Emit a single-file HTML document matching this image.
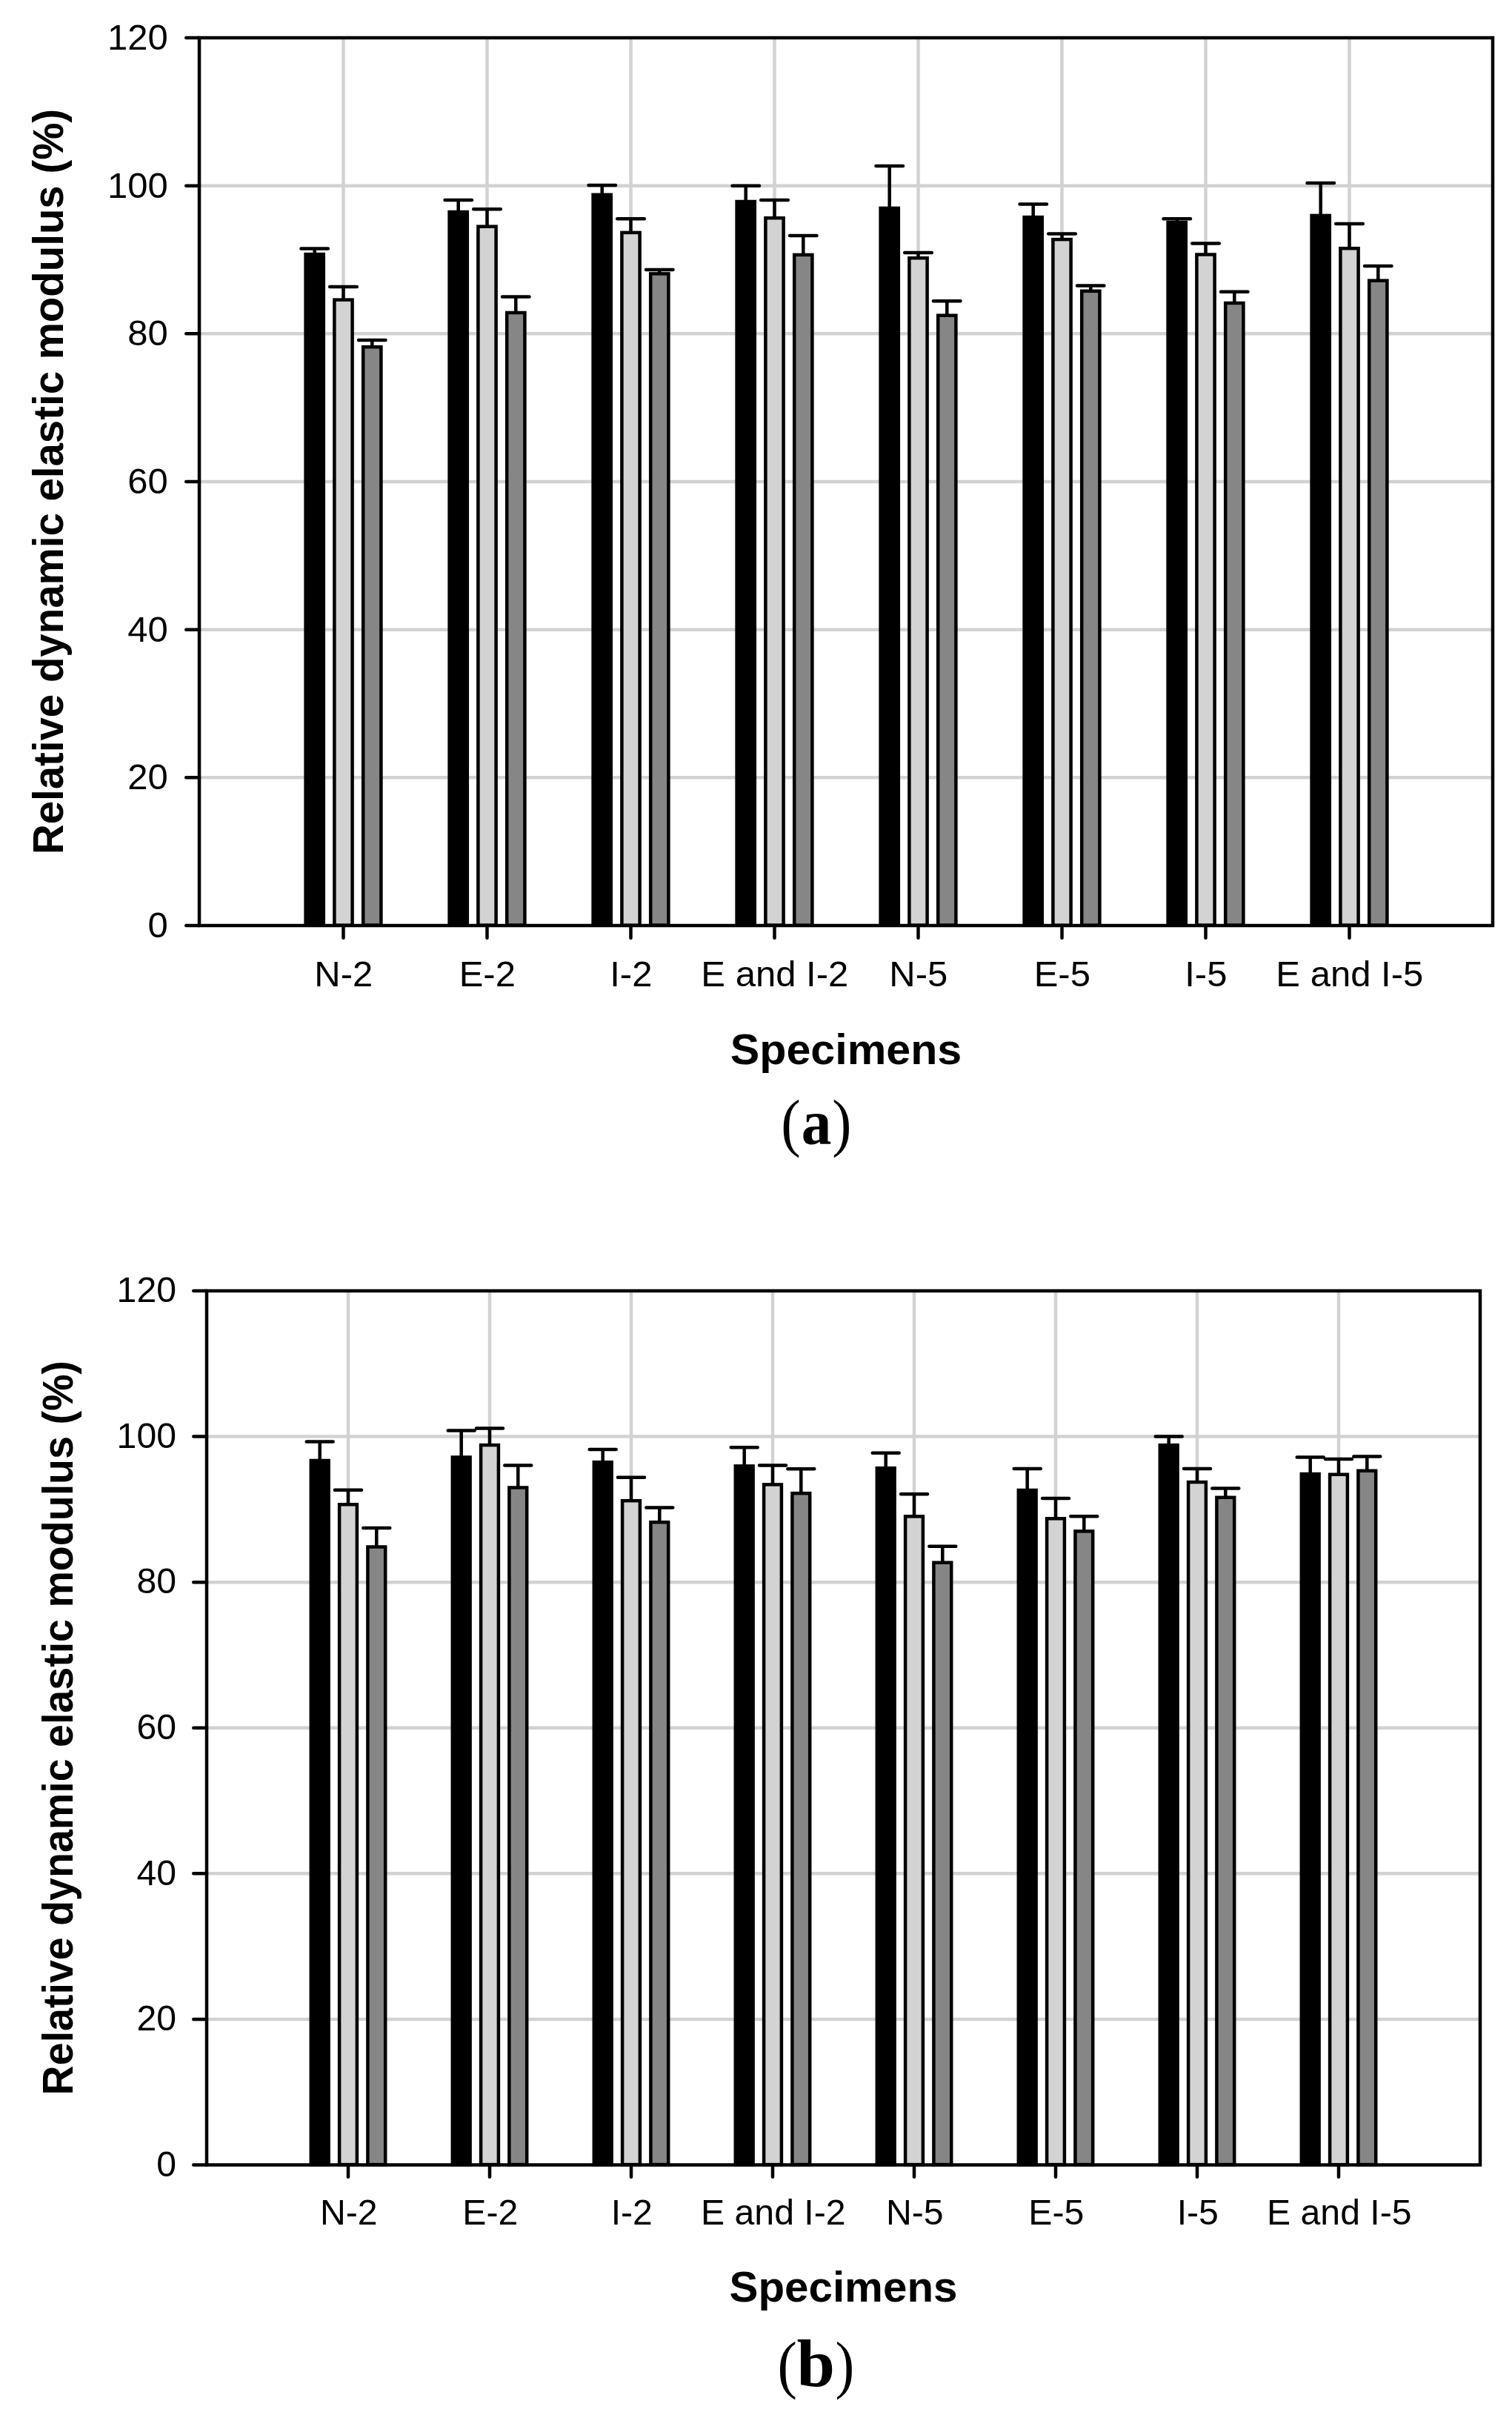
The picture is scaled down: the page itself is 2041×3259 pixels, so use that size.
<!DOCTYPE html>
<html lang="en"><head><meta charset="utf-8"><title>Relative dynamic elastic modulus</title>
<style>
html,body{margin:0;padding:0;background:#fff;}
body{width:2041px;height:3259px;overflow:hidden;}
svg{display:block;}
text{white-space:pre;}
</style></head><body>
<svg width="2041" height="3259" viewBox="0 0 2041 3259">
<rect width="2041" height="3259" fill="#fff"/>
<g id="chart-a">
<g stroke="#d2d2d2" stroke-width="4.5" fill="none"><line x1="269" x2="2015" y1="250.7" y2="250.7"/><line x1="269" x2="2015" y1="450.3" y2="450.3"/><line x1="269" x2="2015" y1="650.0" y2="650.0"/><line x1="269" x2="2015" y1="849.7" y2="849.7"/><line x1="269" x2="2015" y1="1049.3" y2="1049.3"/><line x1="463.5" x2="463.5" y1="51" y2="1249"/><line x1="657.5" x2="657.5" y1="51" y2="1249"/><line x1="851.5" x2="851.5" y1="51" y2="1249"/><line x1="1045.5" x2="1045.5" y1="51" y2="1249"/><line x1="1239.5" x2="1239.5" y1="51" y2="1249"/><line x1="1433.5" x2="1433.5" y1="51" y2="1249"/><line x1="1627.5" x2="1627.5" y1="51" y2="1249"/><line x1="1821.5" x2="1821.5" y1="51" y2="1249"/></g>
<g stroke="#000" stroke-width="4.5" stroke-linejoin="miter"><rect x="412.6" y="343.1" width="24.2" height="905.5" fill="#000"/><rect x="451.4" y="404.6" width="24.2" height="844.1" fill="#d3d3d3"/><rect x="490.2" y="468.2" width="24.2" height="780.4" fill="#868686"/><rect x="606.6" y="286.0" width="24.2" height="962.6" fill="#000"/><rect x="645.4" y="305.7" width="24.2" height="942.9" fill="#d3d3d3"/><rect x="684.2" y="422.0" width="24.2" height="826.6" fill="#868686"/><rect x="800.6" y="262.8" width="24.2" height="985.9" fill="#000"/><rect x="839.4" y="313.9" width="24.2" height="934.8" fill="#d3d3d3"/><rect x="878.2" y="369.4" width="24.2" height="879.2" fill="#868686"/><rect x="994.6" y="272.0" width="24.2" height="976.6" fill="#000"/><rect x="1033.4" y="294.2" width="24.2" height="954.4" fill="#d3d3d3"/><rect x="1072.2" y="343.9" width="24.2" height="904.8" fill="#868686"/><rect x="1188.6" y="280.9" width="24.2" height="967.6" fill="#000"/><rect x="1227.4" y="348.2" width="24.2" height="900.4" fill="#d3d3d3"/><rect x="1266.2" y="425.7" width="24.2" height="822.9" fill="#868686"/><rect x="1382.6" y="293.1" width="24.2" height="955.5" fill="#000"/><rect x="1421.4" y="323.1" width="24.2" height="925.6" fill="#d3d3d3"/><rect x="1460.2" y="392.8" width="24.2" height="855.9" fill="#868686"/><rect x="1576.6" y="300.1" width="24.2" height="948.5" fill="#000"/><rect x="1615.4" y="343.5" width="24.2" height="905.1" fill="#d3d3d3"/><rect x="1654.2" y="409.0" width="24.2" height="839.6" fill="#868686"/><rect x="1770.6" y="290.9" width="24.2" height="957.6" fill="#000"/><rect x="1809.4" y="335.2" width="24.2" height="913.4" fill="#d3d3d3"/><rect x="1848.2" y="378.7" width="24.2" height="869.9" fill="#868686"/></g>
<g stroke="#000" stroke-width="4.5" stroke-linecap="round" fill="none"><path d="M424.7 341.9V335.6M406.4 335.6H442.9"/><path d="M463.5 403.3V387.0M445.2 387.0H481.8"/><path d="M502.3 467.0V458.9M484.1 458.9H520.5"/><path d="M618.7 284.8V270.0M600.5 270.0H637.0"/><path d="M657.5 304.4V282.2M639.2 282.2H675.8"/><path d="M696.3 420.7V400.4M678.0 400.4H714.5"/><path d="M812.7 261.5V250.0M794.5 250.0H831.0"/><path d="M851.5 312.6V295.2M833.2 295.2H869.8"/><path d="M890.3 368.1V364.0M872.0 364.0H908.5"/><path d="M1006.7 270.8V250.7M988.5 250.7H1025.0"/><path d="M1045.5 292.9V270.0M1027.2 270.0H1063.8"/><path d="M1084.3 342.6V318.1M1066.0 318.1H1102.5"/><path d="M1200.7 279.7V224.1M1182.5 224.1H1219.0"/><path d="M1239.5 347.0V341.1M1221.2 341.1H1257.8"/><path d="M1278.3 424.4V406.3M1260.0 406.3H1296.5"/><path d="M1394.7 291.9V275.6M1376.5 275.6H1413.0"/><path d="M1433.5 321.8V315.6M1415.2 315.6H1451.8"/><path d="M1472.3 391.5V385.6M1454.0 385.6H1490.5"/><path d="M1588.7 298.9V295.2M1570.5 295.2H1607.0"/><path d="M1627.5 342.2V328.5M1609.2 328.5H1645.8"/><path d="M1666.3 407.7V393.7M1648.0 393.7H1684.5"/><path d="M1782.7 289.7V247.0M1764.5 247.0H1801.0"/><path d="M1821.5 334.0V301.9M1803.2 301.9H1839.8"/><path d="M1860.3 377.4V358.9M1842.0 358.9H1878.5"/></g>
<rect x="269" y="51" width="1746" height="1198" fill="none" stroke="#000" stroke-width="4.5"/>
<g stroke="#000" stroke-width="4.5" stroke-linecap="round"><line x1="251.25" x2="269" y1="51.0" y2="51.0"/><line x1="251.25" x2="269" y1="250.7" y2="250.7"/><line x1="251.25" x2="269" y1="450.3" y2="450.3"/><line x1="251.25" x2="269" y1="650.0" y2="650.0"/><line x1="251.25" x2="269" y1="849.7" y2="849.7"/><line x1="251.25" x2="269" y1="1049.3" y2="1049.3"/><line x1="251.25" x2="269" y1="1249.0" y2="1249.0"/><line x1="463.5" x2="463.5" y1="1249" y2="1265.75"/><line x1="657.5" x2="657.5" y1="1249" y2="1265.75"/><line x1="851.5" x2="851.5" y1="1249" y2="1265.75"/><line x1="1045.5" x2="1045.5" y1="1249" y2="1265.75"/><line x1="1239.5" x2="1239.5" y1="1249" y2="1265.75"/><line x1="1433.5" x2="1433.5" y1="1249" y2="1265.75"/><line x1="1627.5" x2="1627.5" y1="1249" y2="1265.75"/><line x1="1821.5" x2="1821.5" y1="1249" y2="1265.75"/></g>
<g font-family="'Liberation Sans', Arial, sans-serif" font-size="49" fill="#000"><text x="226.8" y="66.9" text-anchor="end">120</text><text x="226.8" y="266.6" text-anchor="end">100</text><text x="226.8" y="466.2" text-anchor="end">80</text><text x="226.8" y="665.9" text-anchor="end">60</text><text x="226.8" y="865.6" text-anchor="end">40</text><text x="226.8" y="1065.2" text-anchor="end">20</text><text x="226.8" y="1264.9" text-anchor="end">0</text><text x="463.8" y="1331.4" text-anchor="middle">N-2</text><text x="657.8" y="1331.4" text-anchor="middle">E-2</text><text x="851.8" y="1331.4" text-anchor="middle">I-2</text><text x="1045.8" y="1331.4" text-anchor="middle">E and I-2</text><text x="1239.8" y="1331.4" text-anchor="middle">N-5</text><text x="1433.8" y="1331.4" text-anchor="middle">E-5</text><text x="1627.8" y="1331.4" text-anchor="middle">I-5</text><text x="1821.8" y="1331.4" text-anchor="middle">E and I-5</text></g>
<text x="1142.0" y="1435.7" text-anchor="middle" font-family="'Liberation Sans', Arial, sans-serif" font-weight="bold" font-size="58" textLength="312.45" lengthAdjust="spacingAndGlyphs">Specimens</text>
<text transform="translate(85,650.0) rotate(-90)" text-anchor="middle" font-family="'Liberation Sans', Arial, sans-serif" font-weight="bold" font-size="58" textLength="1006.2" lengthAdjust="spacingAndGlyphs">Relative dynamic elastic modulus (%)</text>
<g font-family="'Liberation Serif', 'Times New Roman', serif" fill="#000"><text transform="translate(1054.22,1543.75) scale(0.9162,1)" font-size="86.89" font-weight="normal">(</text><text transform="translate(1081.66,1543.77) scale(0.9375,1)" font-size="86.74" font-weight="bold">a</text><text transform="translate(1123.35,1543.75) scale(0.9030,1)" font-size="86.89" font-weight="normal">)</text></g>
</g>
<g id="chart-b">
<g stroke="#d2d2d2" stroke-width="4.5" fill="none"><line x1="279" x2="1998" y1="1938.6" y2="1938.6"/><line x1="279" x2="1998" y1="2135.2" y2="2135.2"/><line x1="279" x2="1998" y1="2331.8" y2="2331.8"/><line x1="279" x2="1998" y1="2528.3" y2="2528.3"/><line x1="279" x2="1998" y1="2724.9" y2="2724.9"/><line x1="470.0" x2="470.0" y1="1742" y2="2921.5"/><line x1="661.0" x2="661.0" y1="1742" y2="2921.5"/><line x1="852.0" x2="852.0" y1="1742" y2="2921.5"/><line x1="1043.0" x2="1043.0" y1="1742" y2="2921.5"/><line x1="1234.0" x2="1234.0" y1="1742" y2="2921.5"/><line x1="1425.0" x2="1425.0" y1="1742" y2="2921.5"/><line x1="1616.0" x2="1616.0" y1="1742" y2="2921.5"/><line x1="1807.0" x2="1807.0" y1="1742" y2="2921.5"/></g>
<g stroke="#000" stroke-width="4.5" stroke-linejoin="miter"><rect x="419.8" y="1971.0" width="23.8" height="950.1" fill="#000"/><rect x="458.1" y="2030.3" width="23.8" height="890.8" fill="#d3d3d3"/><rect x="496.4" y="2087.5" width="23.8" height="833.6" fill="#868686"/><rect x="610.8" y="1966.5" width="23.8" height="954.6" fill="#000"/><rect x="649.1" y="1950.1" width="23.8" height="971.0" fill="#d3d3d3"/><rect x="687.4" y="2007.5" width="23.8" height="913.6" fill="#868686"/><rect x="801.8" y="1973.2" width="23.8" height="947.9" fill="#000"/><rect x="840.1" y="2025.2" width="23.8" height="895.9" fill="#d3d3d3"/><rect x="878.4" y="2054.2" width="23.8" height="866.9" fill="#868686"/><rect x="992.8" y="1978.4" width="23.8" height="942.7" fill="#000"/><rect x="1031.1" y="2003.4" width="23.8" height="917.7" fill="#d3d3d3"/><rect x="1069.4" y="2015.2" width="23.8" height="905.9" fill="#868686"/><rect x="1183.8" y="1981.2" width="23.8" height="939.9" fill="#000"/><rect x="1222.1" y="2046.4" width="23.8" height="874.7" fill="#d3d3d3"/><rect x="1260.4" y="2108.7" width="23.8" height="812.4" fill="#868686"/><rect x="1374.8" y="2011.0" width="23.8" height="910.1" fill="#000"/><rect x="1413.1" y="2049.3" width="23.8" height="871.8" fill="#d3d3d3"/><rect x="1451.4" y="2066.4" width="23.8" height="854.7" fill="#868686"/><rect x="1565.8" y="1950.2" width="23.8" height="970.9" fill="#000"/><rect x="1604.1" y="2000.1" width="23.8" height="921.0" fill="#d3d3d3"/><rect x="1642.4" y="2020.8" width="23.8" height="900.3" fill="#868686"/><rect x="1756.8" y="1989.1" width="23.8" height="932.0" fill="#000"/><rect x="1795.1" y="1989.8" width="23.8" height="931.4" fill="#d3d3d3"/><rect x="1833.4" y="1984.8" width="23.8" height="936.3" fill="#868686"/></g>
<g stroke="#000" stroke-width="4.5" stroke-linecap="round" fill="none"><path d="M431.7 1969.7V1945.5M413.7 1945.5H449.7"/><path d="M470.0 2029.1V2010.7M452.0 2010.7H488.0"/><path d="M508.3 2086.3V2061.9M490.3 2061.9H526.3"/><path d="M622.7 1965.2V1930.4M604.7 1930.4H640.7"/><path d="M661.0 1948.9V1927.4M643.0 1927.4H679.0"/><path d="M699.3 2006.3V1977.4M681.3 1977.4H717.3"/><path d="M813.7 1971.9V1955.9M795.7 1955.9H831.7"/><path d="M852.0 2024.0V1993.7M834.0 1993.7H870.0"/><path d="M890.3 2052.9V2034.4M872.3 2034.4H908.3"/><path d="M1004.7 1977.1V1953.3M986.7 1953.3H1022.7"/><path d="M1043.0 2002.2V1977.4M1025.0 1977.4H1061.0"/><path d="M1081.3 2014.0V1982.2M1063.3 1982.2H1099.3"/><path d="M1195.7 1980.0V1960.7M1177.7 1960.7H1213.7"/><path d="M1234.0 2045.2V2016.3M1216.0 2016.3H1252.0"/><path d="M1272.3 2107.4V2086.7M1254.3 2086.7H1290.3"/><path d="M1386.7 2009.7V1981.9M1368.7 1981.9H1404.7"/><path d="M1425.0 2048.1V2021.9M1407.0 2021.9H1443.0"/><path d="M1463.3 2065.2V2046.3M1445.3 2046.3H1481.3"/><path d="M1577.7 1948.9V1938.5M1559.7 1938.5H1595.7"/><path d="M1616.0 1998.9V1981.9M1598.0 1981.9H1634.0"/><path d="M1654.3 2019.6V2008.5M1636.3 2008.5H1672.3"/><path d="M1768.7 1987.8V1966.5M1750.7 1966.5H1786.7"/><path d="M1807.0 1988.5V1969.0M1789.0 1969.0H1825.0"/><path d="M1845.3 1983.6V1965.4M1827.3 1965.4H1863.3"/></g>
<rect x="279" y="1742" width="1719" height="1179.5" fill="none" stroke="#000" stroke-width="4.5"/>
<g stroke="#000" stroke-width="4.5" stroke-linecap="round"><line x1="261.25" x2="279" y1="1742.0" y2="1742.0"/><line x1="261.25" x2="279" y1="1938.6" y2="1938.6"/><line x1="261.25" x2="279" y1="2135.2" y2="2135.2"/><line x1="261.25" x2="279" y1="2331.8" y2="2331.8"/><line x1="261.25" x2="279" y1="2528.3" y2="2528.3"/><line x1="261.25" x2="279" y1="2724.9" y2="2724.9"/><line x1="261.25" x2="279" y1="2921.5" y2="2921.5"/><line x1="470.0" x2="470.0" y1="2921.5" y2="2937.75"/><line x1="661.0" x2="661.0" y1="2921.5" y2="2937.75"/><line x1="852.0" x2="852.0" y1="2921.5" y2="2937.75"/><line x1="1043.0" x2="1043.0" y1="2921.5" y2="2937.75"/><line x1="1234.0" x2="1234.0" y1="2921.5" y2="2937.75"/><line x1="1425.0" x2="1425.0" y1="2921.5" y2="2937.75"/><line x1="1616.0" x2="1616.0" y1="2921.5" y2="2937.75"/><line x1="1807.0" x2="1807.0" y1="2921.5" y2="2937.75"/></g>
<g font-family="'Liberation Sans', Arial, sans-serif" font-size="48.2" fill="#000"><text x="238" y="1757.2" text-anchor="end">120</text><text x="238" y="1953.8" text-anchor="end">100</text><text x="238" y="2150.4" text-anchor="end">80</text><text x="238" y="2346.9" text-anchor="end">60</text><text x="238" y="2543.5" text-anchor="end">40</text><text x="238" y="2740.1" text-anchor="end">20</text><text x="238" y="2936.7" text-anchor="end">0</text><text x="470.8" y="3001.5" text-anchor="middle">N-2</text><text x="661.8" y="3001.5" text-anchor="middle">E-2</text><text x="852.8" y="3001.5" text-anchor="middle">I-2</text><text x="1043.8" y="3001.5" text-anchor="middle">E and I-2</text><text x="1234.8" y="3001.5" text-anchor="middle">N-5</text><text x="1425.8" y="3001.5" text-anchor="middle">E-5</text><text x="1616.8" y="3001.5" text-anchor="middle">I-5</text><text x="1807.8" y="3001.5" text-anchor="middle">E and I-5</text></g>
<text x="1138.5" y="3105.7" text-anchor="middle" font-family="'Liberation Sans', Arial, sans-serif" font-weight="bold" font-size="57.5" textLength="307.9" lengthAdjust="spacingAndGlyphs">Specimens</text>
<text transform="translate(98,2331.8) rotate(-90)" text-anchor="middle" font-family="'Liberation Sans', Arial, sans-serif" font-weight="bold" font-size="57.5" textLength="991.2" lengthAdjust="spacingAndGlyphs">Relative dynamic elastic modulus (%)</text>
<g font-family="'Liberation Serif', 'Times New Roman', serif" fill="#000"><text transform="translate(1049.44,3219.75) scale(0.9117,1)" font-size="86.89" font-weight="normal">(</text><text transform="translate(1075.41,3220.00) scale(1.0289,1)" font-size="90.00" font-weight="bold">b</text><text transform="translate(1127.38,3219.75) scale(0.8897,1)" font-size="86.89" font-weight="normal">)</text></g>
</g>
</svg>
</body></html>
